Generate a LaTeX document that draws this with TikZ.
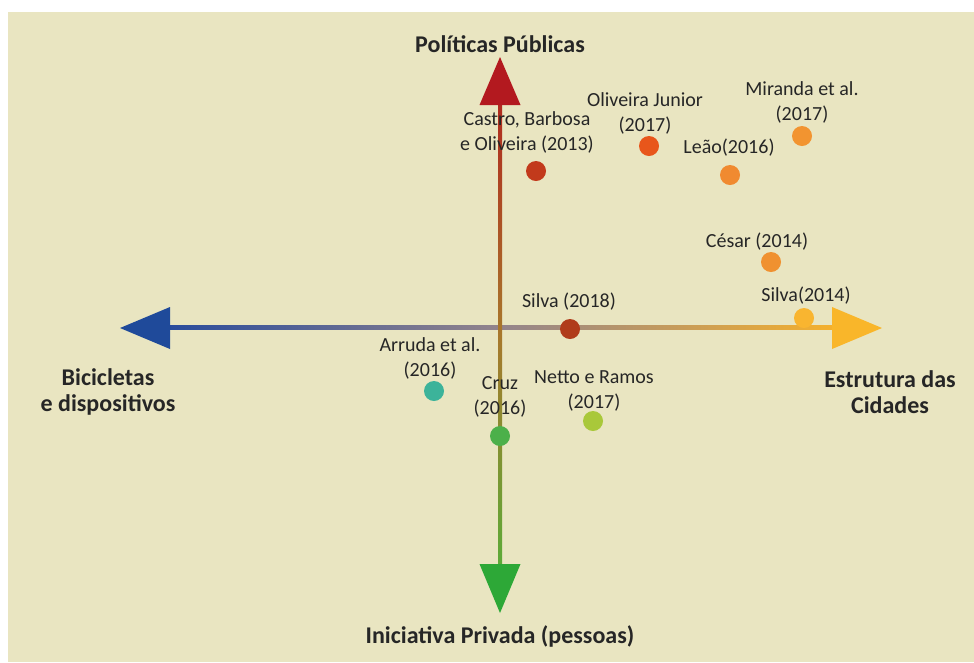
\documentclass[tikz,border=0pt]{standalone}
\usepackage{fontspec}
\setmainfont{Carlito}
\definecolor{bgbeige}{HTML}{E9E5C1}
\definecolor{txt}{HTML}{262626}
\definecolor{axred}{HTML}{B3191F}
\definecolor{axgreen}{HTML}{2DA837}
\definecolor{axblue}{HTML}{1F4A9A}
\definecolor{axorange}{HTML}{F9B62A}
\definecolor{vmid}{HTML}{A8782C}
\definecolor{vtop}{HTML}{B02A1E}
\definecolor{vbot}{HTML}{5DAA38}
\definecolor{hmid}{HTML}{93848C}
\definecolor{hleft}{HTML}{2A4C9C}
\definecolor{hright}{HTML}{F4B02E}
\definecolor{cCastro}{HTML}{C23A1C}
\definecolor{cOliv}{HTML}{E8561B}
\definecolor{cLeao}{HTML}{F08A30}
\definecolor{cMir}{HTML}{F29430}
\definecolor{cCesar}{HTML}{F09130}
\definecolor{cSilva14}{HTML}{F9B530}
\definecolor{cSilva18}{HTML}{B03C1B}
\definecolor{cArruda}{HTML}{3CB39A}
\definecolor{cCruz}{HTML}{4CB04A}
\definecolor{cNetto}{HTML}{A9C83A}
\begin{document}
\begin{tikzpicture}[x=0.75pt,y=-0.75pt,
  dot/.style={circle,inner sep=0pt,minimum size=15pt,draw=none},
  lbl/.style={text=txt,align=center,inner sep=0pt,font=\fontsize{15pt}{18.75pt}\selectfont},
  axlbl/.style={text=txt,align=center,inner sep=0pt,font=\fontsize{18pt}{19.5pt}\selectfont\bfseries}]
\useasboundingbox (0,0) rectangle (974,662);
\fill[bgbeige] (8,12) rectangle (974,662);
% axis end points
\coordinate (vt) at (500,105);
\coordinate (vb) at (500,564);
\coordinate (hl) at (170,328);
\coordinate (hr) at (832,328);
% horizontal axis
\shade[left color=hleft,right color=hright,middle color=hmid] ([yshift=2pt]hl) rectangle ([yshift=-1pt]hr);
\fill[axblue] (hl) ++(0,-21) -- ++(-50,21) -- ++(50,21) -- cycle;
\fill[axorange] (hr) ++(0,-21) -- ++(50,21) -- ++(-50,21) -- cycle;
% vertical axis
\shade[top color=vtop,bottom color=vbot,middle color=vmid] ([xshift=-1.5pt]vt) rectangle ([xshift=1.5pt]vb);
\fill[axred] (vt) ++(-20.5,0) -- ++(20.5,-48) -- ++(20.5,48) -- cycle;
\fill[axgreen] (vb) ++(-20.5,0) -- ++(20.5,49) -- ++(20.5,-49) -- cycle;
% axis labels
\node[axlbl] (pp) at (500,44) {Políticas Públicas};
\node[axlbl] (ip) at (500,636) {Iniciativa Privada (pessoas)};
\node[axlbl] (bd) at (108,392) {Bicicletas\\e dispositivos};
\node[axlbl] (ec) at (890,392) {Estrutura das\\Cidades};
% dots
\node[dot,fill=cCastro] (castro) at (536,171) {};
\node[dot,fill=cOliv] (oliv) at (649,146) {};
\node[dot,fill=cLeao] (leao) at (730,175) {};
\node[dot,fill=cMir] (mir) at (802,136) {};
\node[dot,fill=cCesar] (cesar) at (771,262) {};
\node[dot,fill=cSilva14] (silva14) at (804,318) {};
\node[dot,fill=cSilva18] (silva18) at (570,329) {};
\node[dot,fill=cArruda] (arruda) at (434,391) {};
\node[dot,fill=cCruz] (cruz) at (500,436) {};
\node[dot,fill=cNetto] (netto) at (593,421) {};
% labels
\node[lbl] (lcastro) at (527,132) {Castro, Barbosa\\e Oliveira (2013)};
\node[lbl] (loliv) at (645,113) {Oliveira Junior\\(2017)};
\node[lbl] (lmir) at (802,102) {Miranda et al.\\(2017)};
\node[lbl] (lleao) at (729,148) {Leão(2016)};
\node[lbl] (lcesar) at (757,242) {César (2014)};
\node[lbl] (lsilva14) at (806,296) {Silva(2014)};
\node[lbl] (lsilva18) at (569,302) {Silva (2018)};
\node[lbl] (larruda) at (430,358) {Arruda et al.\\(2016)};
\node[lbl] (lcruz) at (500,397) {Cruz\\(2016)};
\node[lbl] (lnetto) at (594,391) {Netto e Ramos\\(2017)};
\end{tikzpicture}
\end{document}
